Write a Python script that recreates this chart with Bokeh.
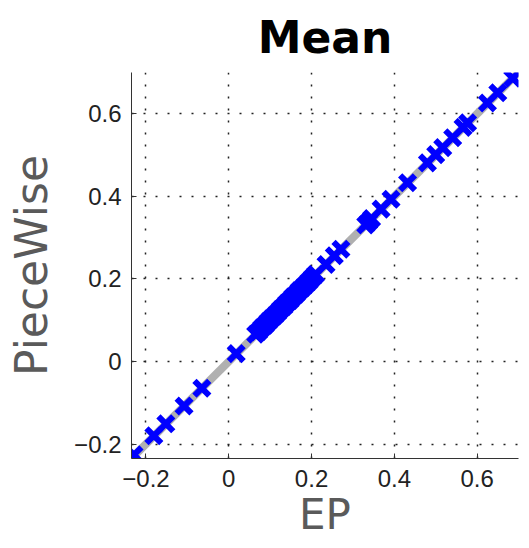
from bokeh.plotting import figure
from bokeh.models import Range1d, FixedTicker
from bokeh.embed import file_html
from bokeh.resources import INLINE

ep = [-0.229, -0.181, -0.152, -0.108, -0.065, 0.018,
      0.065, 0.072, 0.080, 0.088, 0.095, 0.102, 0.110, 0.118, 0.125, 0.133,
      0.140, 0.148, 0.155, 0.163, 0.170, 0.178, 0.186, 0.194, 0.202, 0.210,
      0.235, 0.255, 0.271, 0.331, 0.338, 0.345, 0.368, 0.392, 0.432,
      0.480, 0.500, 0.517, 0.541, 0.566, 0.577, 0.625, 0.650, 0.686]
piecewise = [-0.226, -0.180, -0.151, -0.108, -0.065, 0.019,
             0.066, 0.072, 0.081, 0.088, 0.096, 0.103, 0.110, 0.118, 0.126, 0.133,
             0.141, 0.148, 0.156, 0.163, 0.171, 0.178, 0.186, 0.194, 0.203, 0.211,
             0.235, 0.256, 0.272, 0.331, 0.338, 0.346, 0.369, 0.393, 0.433,
             0.481, 0.501, 0.518, 0.542, 0.567, 0.578, 0.626, 0.651, 0.686]
diag = [-0.235, 0.70]
ticks = [-0.2, 0, 0.2, 0.4, 0.6]

p = figure(width=520, height=544, output_backend="svg", toolbar_location=None,
           x_range=Range1d(-0.235, 0.70), y_range=Range1d(-0.235, 0.70),
           title="Mean", min_border_left=131, min_border_right=2,
           min_border_bottom=86, min_border_top=71)
p.outline_line_color = None

p.line(diag, diag, line_color="#b0b0b0", line_width=8)
p.scatter(ep, piecewise, marker="x", size=21, line_color="#0000ff", line_width=6)

p.title.text_font = "DejaVu Sans"
p.title.text_font_size = "44px"
p.title.text_font_style = "bold"
p.title.align = "center"
p.title.text_color = "black"
p.title.standoff = 19

for ax in (p.xaxis[0], p.yaxis[0]):
    ax.ticker = FixedTicker(ticks=ticks)
    ax.major_label_overrides = {0: "0", -0.2: "\u22120.2"}
    ax.major_label_text_font = "Liberation Sans"
    ax.major_label_text_font_size = "24px"
    ax.major_label_text_color = "#222222"
    ax.axis_label_text_font = "DejaVu Sans"
    ax.axis_label_text_font_style = "normal"
    ax.axis_label_text_color = "#5a5a5a"
    ax.major_tick_in = 5
    ax.major_tick_out = 0
    ax.minor_tick_line_color = None
    ax.axis_line_color = "#333333"
    ax.major_tick_line_color = "#333333"

p.xaxis.axis_label = "EP"
p.xaxis.axis_label_text_font_size = "42px"
p.xaxis.axis_label_standoff = 0
p.xaxis.major_label_standoff = 11
p.yaxis.axis_label = "PieceWise"
p.yaxis.axis_label_text_font_size = "44px"
p.yaxis.axis_label_standoff = 14
p.yaxis.major_label_standoff = 10

p.grid.grid_line_color = "#222222"
p.grid.grid_line_dash = "2 10"
p.grid.grid_line_width = 1.5

open("out.html", "w").write(file_html(p, INLINE))
